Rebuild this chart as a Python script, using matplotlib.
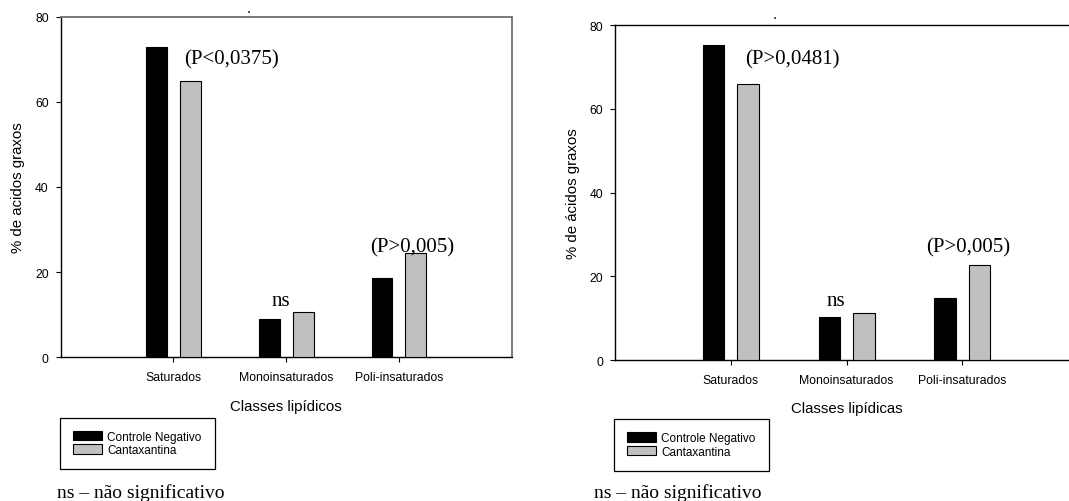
import matplotlib
matplotlib.use("Agg")
import matplotlib.pyplot as plt
import numpy as np

categories = ["Saturados", "Monoinsaturados", "Poli-insaturados"]
series_names = ["Controle Negativo", "Cantaxantina"]

left_controle = [72.8, 8.9, 18.6]
left_cantax = [64.9, 10.7, 24.5]
right_controle = [75.2, 10.2, 14.7]
right_cantax = [66.0, 11.3, 22.7]

yticks = [0, 20, 40, 60, 80]
left_xlabel = "Classes lipídicos"
right_xlabel = "Classes lipídicas"
left_ylabel = "% de acidos graxos"
right_ylabel = "% de ácidos graxos"

left_notes = [("(P<0,0375)", 1.511, 68.9), ("ns", 1.955, 12.3), ("(P>0,005)", 3.115, 24.9)]
right_notes = [("(P>0,0481)", 1.533, 70.9), ("ns", 1.903, 13.1), ("(P>0,005)", 3.05, 25.8)]
footnote = "ns – não significativo"

SANS = "Liberation Sans"
SERIF = "Liberation Serif"

W, H = 1069, 502
fig = plt.figure(figsize=(W / 100, H / 100), dpi=100)


def px(x0, y0, x1, y1):
    return [x0 / W, 1 - y1 / H, (x1 - x0) / W, (y1 - y0) / H]


def draw(ax, ctrl, cant, xlabel, ylabel, notes, gray_frame):
    x = np.arange(1, len(categories) + 1)
    bw = 0.185
    off = 0.15
    b1 = ax.bar(x - off, ctrl, bw, color="black", edgecolor="black", linewidth=0.8,
                label=series_names[0], zorder=3)
    b2 = ax.bar(x + off, cant, bw, color="#c0c0c0", edgecolor="black", linewidth=0.8,
                label=series_names[1], zorder=3)
    ax.set_xlim(0, 4)
    ax.set_ylim(0, 80)
    ax.set_yticks(yticks)
    ax.set_xticks(x)
    ax.set_xticklabels(categories, fontfamily=SANS, fontsize=8.8)
    for lab in ax.get_yticklabels():
        lab.set_fontfamily(SANS)
        lab.set_fontsize(8.8)
    ax.tick_params(axis="both", direction="out", length=3.6, width=0.8, color="black")
    ax.tick_params(axis="y", pad=5)
    ax.tick_params(axis="x", pad=6.5)
    ax.set_xlabel(xlabel, fontfamily=SANS, fontsize=10.8, labelpad=11)
    ax.set_ylabel(ylabel, fontfamily=SANS, fontsize=10.8, labelpad=7)
    for s in ax.spines.values():
        s.set_linewidth(1.0)
        s.set_color("black")
    if gray_frame:
        ax.spines["top"].set_color("#707070")
        ax.spines["right"].set_color("#707070")
        ax.spines["top"].set_linewidth(1.3)
        ax.spines["right"].set_linewidth(1.3)
    for txt, tx, ty in notes:
        ax.text(tx, ty, txt, fontfamily=SERIF, fontsize=15, ha="center", va="baseline", zorder=4)
    return b1, b2


axL = fig.add_axes(px(60.7, 17.7, 511.7, 358.3))
hL = draw(axL, left_controle, left_cantax, left_xlabel, left_ylabel, left_notes, True)

axR = fig.add_axes(px(615, 26, 615 + 463.2, 361))
hR = draw(axR, right_controle, right_cantax, right_xlabel, right_ylabel, right_notes, False)
axR.spines["right"].set_visible(False)


def add_legend(handles, x0, y0):
    leg = fig.legend(handles, series_names, loc="upper left",
                     bbox_to_anchor=(x0 / W, 1 - y0 / H), bbox_transform=fig.transFigure,
                     prop={"family": SANS, "size": 8.5}, frameon=True, fancybox=False,
                     edgecolor="black", framealpha=1, borderaxespad=0,
                     handlelength=2.45, handleheight=0.9, handletextpad=0.45,
                     labelspacing=0.14, borderpad=1.1)
    leg.get_frame().set_linewidth(0.9)
    return leg


add_legend(hL, 60.1, 418.6)
add_legend(hR, 614.2, 420)

fig.text(57.4 / W, 1 - 498 / H, footnote, fontfamily=SERIF, fontsize=14, ha="left", va="baseline")
fig.text(593.6 / W, 1 - 498 / H, footnote, fontfamily=SERIF, fontsize=14, ha="left", va="baseline")

fig.text(248.3 / W, 1 - 13 / H, ".", fontfamily=SANS, fontsize=11, ha="center", va="baseline")
fig.text(774.8 / W, 1 - 19 / H, ".", fontfamily=SANS, fontsize=11, ha="center", va="baseline")

fig.savefig("out.png", dpi=100)
